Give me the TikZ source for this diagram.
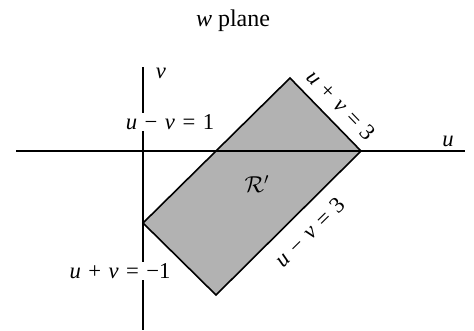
\documentclass[tikz,border=0pt]{standalone}
\usepackage{fontspec}
\setmainfont{Liberation Serif}
\newcommand{\eqsp}{\hspace{0.33em}}
\begin{document}
\begin{tikzpicture}[x=0.75pt,y=-0.75pt,
  axis/.style={line width=0.8pt,black},
  region/.style={draw=black,line width=1.2pt,line join=miter},
  lbl/.style={inner sep=1pt,font=\fontsize{17}{20}\selectfont},
  cutlbl/.style={lbl,fill=white}]
\useasboundingbox (0,0) rectangle (474,330);
% region vertices
\coordinate (A) at (290,78);
\coordinate (B) at (361,151);
\coordinate (C) at (216,295);
\coordinate (D) at (143,223);
% axes
\coordinate (xl) at (16,151);
\coordinate (xr) at (465,151);
\coordinate (yt) at (143,67);
\coordinate (yb) at (143,330);
\fill[black!30] (A) -- (B) -- (C) -- (D) -- cycle;
\draw[axis] (xl) -- (xr);
\draw[axis] (yt) -- (yb);
\draw[region] (A) -- (B) -- (C) -- (D) -- cycle;
% labels
\node[lbl,font=\fontsize{18}{21}\selectfont] (title) at (233,21) {\textit{w} plane};
\node[lbl] (vlab) at (161,73) {\textit{v}};
\node[lbl] (ulab) at (448,141) {\textit{u}};
\node[cutlbl] (e1) at (170,122) {\textit{u}\eqsp−\eqsp\textit{v}\eqsp=\eqsp1};
\node[cutlbl] (e2) at (120,271) {\textit{u}\eqsp+\eqsp\textit{v}\eqsp=\eqsp−1};
\node[lbl,rotate=-46] (e3) at (341,105) {\textit{u}\eqsp+\eqsp\textit{v}\eqsp=\eqsp3};
\node[lbl,rotate=44.6] (e4) at (310,232) {\textit{u}\eqsp−\eqsp\textit{v}\eqsp=\eqsp3};
\node[lbl,font=\fontsize{18}{21}\selectfont] (R) at (257,184) {$\mathcal{R}'$};
\end{tikzpicture}
\end{document}
